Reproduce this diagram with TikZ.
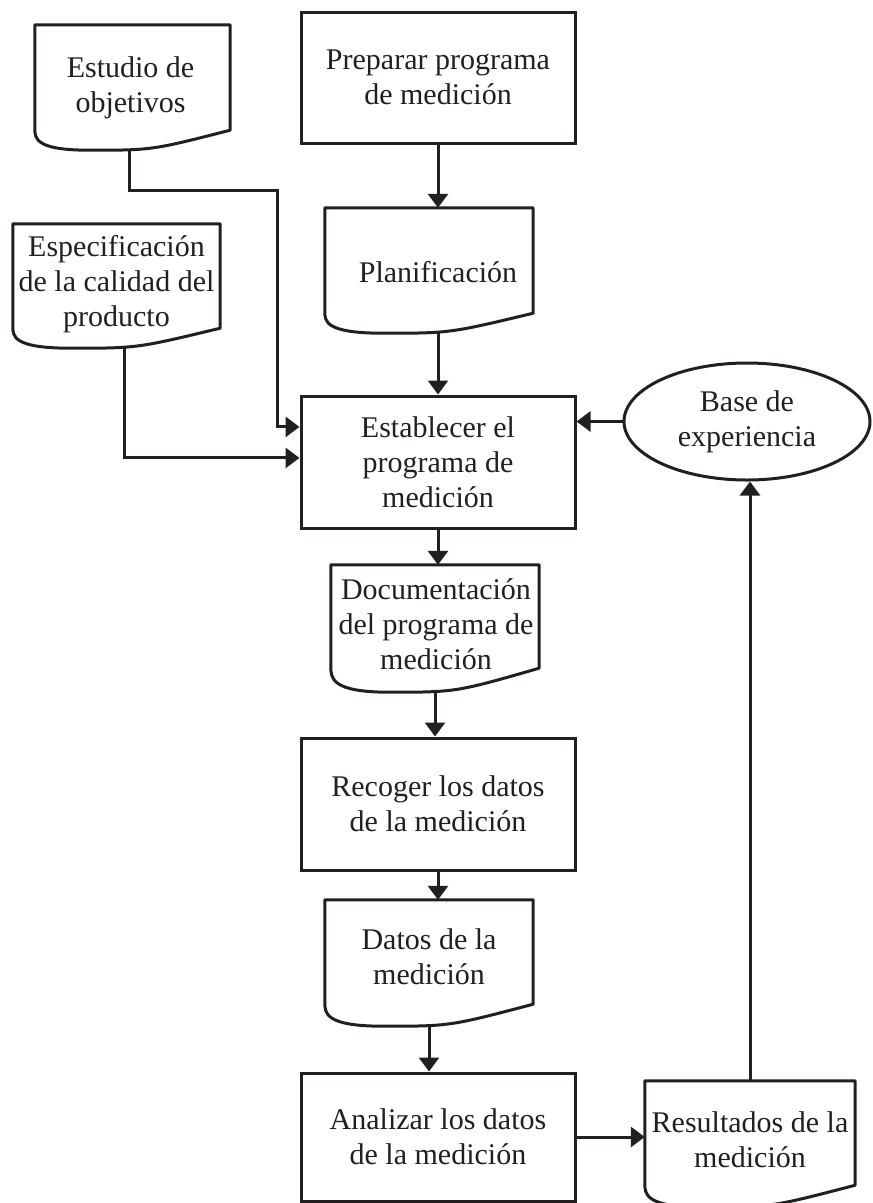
\documentclass[tikz,border=0pt]{standalone}
\usepackage{fontspec}
\setmainfont{Liberation Serif}
\usetikzlibrary{arrows.meta,calc,shapes.geometric}
\pgfdeclarelayer{background}
\pgfsetlayers{background,main}
\definecolor{ink}{RGB}{35,31,32}
\newcommand\diagfont{\fontsize{30}{35}\selectfont}
% outline of a document symbol laid over a named area: flat top, wavy bottom
\newcommand\docoutline[2]{%
  \draw[outline] (#1.north west) -- (#1.north east) -- (#1.south east)
    .. controls ($(#1.south west)!0.6!(#1.south east)+(0,#2)$)
    .. ($(#1.south west)!0.28!(#1.south east)+(0,#2)$)
    .. controls ($(#1.south west)+(0,#2)$) and ($(#1.south west)+(0,0.4*#2)$)
    .. ($(#1.south west)+(0,-2)$) -- cycle;}
\tikzset{
  box/.style={draw=ink, line width=3pt, fill=white, minimum width=274pt,
    inner sep=0pt, align=center, font=\diagfont, text=ink},
  docarea/.style={inner sep=0pt},
  outline/.style={draw=ink, line width=3pt, fill=white, line join=round},
  txt/.style={align=center, inner sep=0pt, font=\diagfont, text=ink},
  conn/.style={draw=ink, line width=3pt,
    -{Triangle[width=20pt,length=14pt]}},
}
\begin{document}
\begin{tikzpicture}[x=1pt,y=-1pt]
\useasboundingbox (0,0) rectangle (873,1203);
\clip (0,0) rectangle (873,1203);

% process boxes
\node[box, minimum height=131pt] (prep) at (438,77.5) {Preparar programa\\de medición};
\node[box, minimum height=132pt] (estab) at (438,462) {Establecer el\\programa de\\medición};
\node[box, minimum height=132pt] (recog) at (438,804) {Recoger los datos\\de la medición};
\node[box, minimum height=128pt] (anal) at (438,1137) {Analizar los datos\\de la medición};

% experience base
\node[draw=ink, ellipse, line width=3pt, fill=white, minimum width=246pt,
  minimum height=117pt, inner sep=0pt, align=center, font=\diagfont, text=ink]
  (base) at (747,421.5) {Base de\\experiencia};

% documents
\node[docarea, minimum width=195pt, minimum height=105pt] (estudio) at (132.5,77.5) {};
\docoutline{estudio}{20}
\node[txt] at ($(estudio.center)+(-2,10)$) {Estudio de\\objetivos};

\node[docarea, minimum width=207pt, minimum height=104pt] (espec) at (116.5,276) {};
\docoutline{espec}{20}
\node[txt] at ($(espec.center)+(0,8)$) {Especificación\\de la calidad del\\producto};

\node[docarea, minimum width=208pt, minimum height=105pt] (plan) at (429,260.5) {};
\docoutline{plan}{20}
\node[txt] at ($(plan.center)+(9,12)$) {Planificación};

\node[docarea, minimum width=208pt, minimum height=103pt] (docu) at (435,616.5) {};
\docoutline{docu}{24}
\node[txt] at ($(docu.center)+(1,8)$) {Documentación\\del programa de\\medición};

\node[docarea, minimum width=208pt, minimum height=104pt] (datos) at (429,952) {};
\docoutline{datos}{22}
\node[txt] at ($(datos.center)+(0,5)$) {Datos de la\\medición};

\node[docarea, minimum width=210pt, minimum height=104pt] (res) at (750,1133) {};
\docoutline{res}{22}
\node[txt] at ($(res.center)+(0,7)$) {Resultados de la\\medición};

% connectors
\begin{pgfonlayer}{background}
\coordinate (bend) at (277,190);
\coordinate (in1) at ($(estab.north west)!0.24!(estab.south west)$);
\coordinate (in2) at ($(estab.north west)!0.47!(estab.south west)$);
\draw[conn] (prep.south) -- (prep.south |- plan.north);
\draw[conn] (estab.north |- plan.south) -- (estab.north);
\draw[conn] ($(estudio.south)+(-3,0)$) |- (bend) |- (in1);
\draw[conn] ($(espec.south)+(8,0)$) |- (in2);
\draw[conn] (base.west) -- (base.west -| estab.east);
\draw[conn] (estab.south) -- (estab.south |- docu.north);
\draw[conn] (docu.south) -- (docu.south |- recog.north);
\draw[conn] (recog.south) -- (recog.south |- datos.north);
\draw[conn] (datos.south) -- (datos.south |- anal.north);
\draw[conn] (anal.east) -- (anal.east -| res.west);
\draw[conn] (res.north) -- (res.north |- base.south);
\end{pgfonlayer}
\end{tikzpicture}
\end{document}
